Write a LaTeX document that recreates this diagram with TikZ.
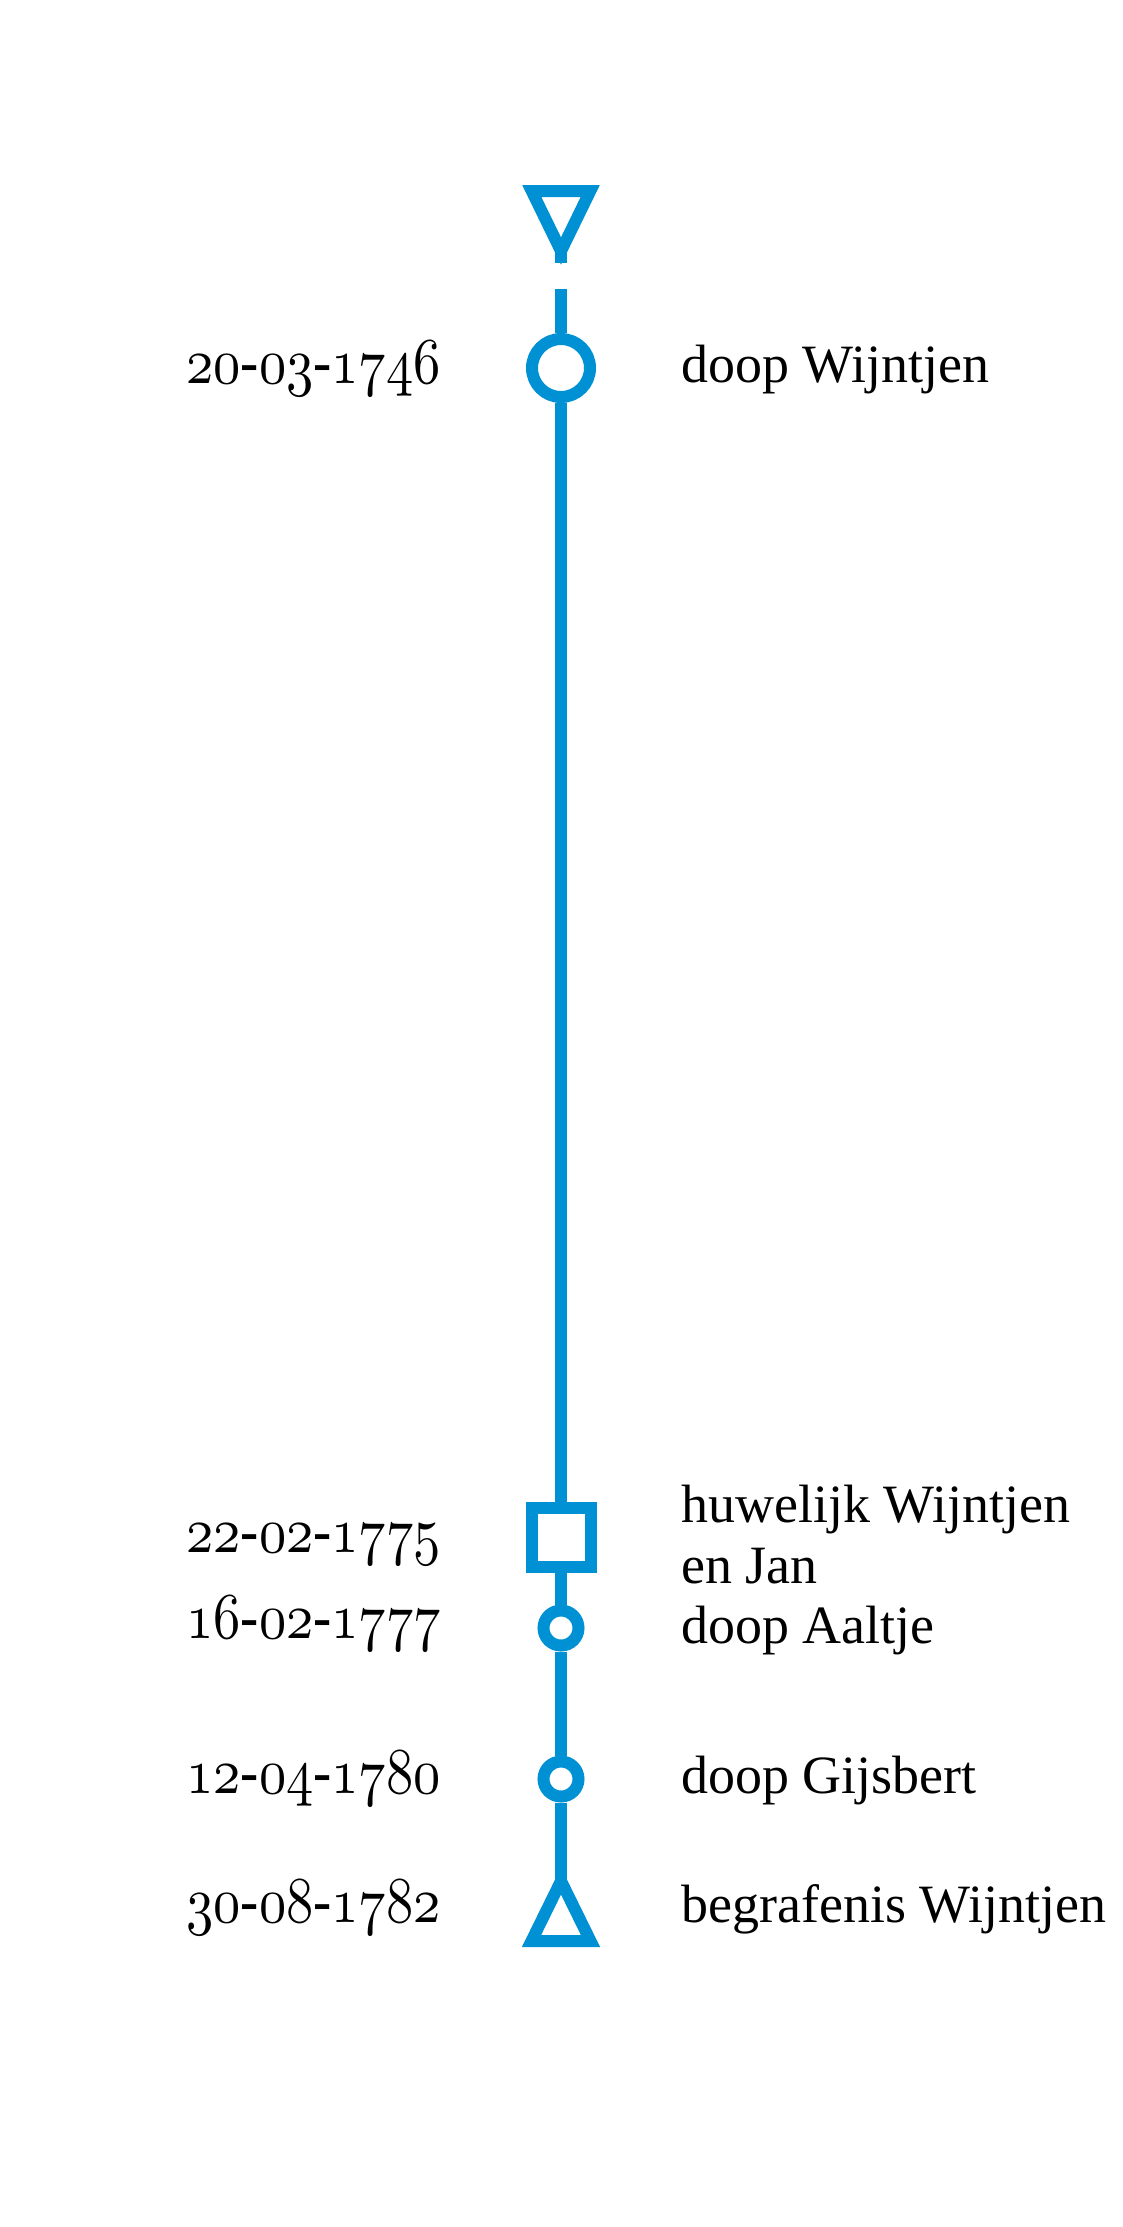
\documentclass[tikz,border=0pt]{standalone}
\usepackage{fontspec}
\setmainfont{Liberation Serif}
\usepackage{graphicx}
\usepackage{xcolor}
\usepackage{tikz}
\usetikzlibrary{positioning}

\definecolor{lijnblauw}{RGB}{0,145,213}
\DeclareFontFamily{OML}{osfcijfers}{\skewchar\font=127}
\DeclareFontShape{OML}{osfcijfers}{m}{it}{<-> cmmi10}{}
\newcommand{\osn}[1]{{\usefont{OML}{osfcijfers}{m}{it}#1}}
\newcommand{\datum}[3]{\scalebox{1}[1.2]{\osn{#1}-\osn{#2}-\osn{#3}}}

\tikzset{
  lijn/.style={draw=lijnblauw, line width=0.24cm},
  rondje/.style={circle, draw=lijnblauw, line width=0.24cm, fill=white, inner sep=0pt, minimum size=#1},
  vierkant/.style={rectangle, draw=lijnblauw, line width=0.24cm, fill=white, inner sep=0pt, minimum size=1.18cm},
  datumtekst/.style={anchor=base east, inner sep=0pt, font=\fontsize{31}{35}\selectfont},
  gebeurtenis/.style={anchor=base west, inner sep=0pt, align=left, font=\fontsize{30.7}{34.7}\selectfont}
}

\begin{document}
\begin{tikzpicture}[scale=1]
  \useasboundingbox (0,0) rectangle (22.46,-44.54);

  % Start marker
  \coordinate (top) at (11.22,-5.02);
  \coordinate (topeind) at (11.22,-5.26);
  \coordinate (herstart) at (11.22,-5.78);
  \draw[lijn] (10.635,-3.82) -- (11.805,-3.82) -- (top) -- cycle;
  \draw[lijn] (top) -- (topeind);

  % Events
  \node[rondje=1.16cm] (doopW) at (11.22,-7.36) {};
  \node[vierkant] (huwelijk) at (11.22,-30.75) {};
  \node[rondje=0.7cm] (doopA) at (11.22,-32.56) {};
  \node[rondje=0.7cm] (doopG) at (11.22,-35.58) {};

  % End marker
  \coordinate (eind) at (11.22,-37.62);
  \draw[lijn] (10.63,-38.82) -- (11.81,-38.82) -- (eind) -- cycle;

  % Timeline
  \draw[lijn] (herstart) -- (doopW) -- (huwelijk) -- (doopA) -- (doopG) -- (eind);

  % Dates
  \node[datumtekst] (d1) at (8.82,-7.66) {\datum{20}{03}{1746}};
  \node[datumtekst] (d2) at (8.82,-31.04) {\datum{22}{02}{1775}};
  \node[datumtekst] (d3) at (8.82,-32.76) {\datum{16}{02}{1777}};
  \node[datumtekst] (d4) at (8.82,-35.86) {\datum{12}{04}{1780}};
  \node[datumtekst] (d5) at (8.82,-38.44) {\datum{30}{08}{1782}};

  % Labels
  \node[gebeurtenis] (g1) at (13.62,-7.64) {doop Wijntjen};
  \node[gebeurtenis] (g2) at (13.62,-31.66) {huwelijk Wijntjen\\en Jan};
  \node[gebeurtenis] (g3) at (13.62,-32.86) {doop Aaltje};
  \node[gebeurtenis] (g4) at (13.62,-35.86) {doop Gijsbert};
  \node[gebeurtenis] (g5) at (13.62,-38.44) {begrafenis Wijntjen};
\end{tikzpicture}
\end{document}
